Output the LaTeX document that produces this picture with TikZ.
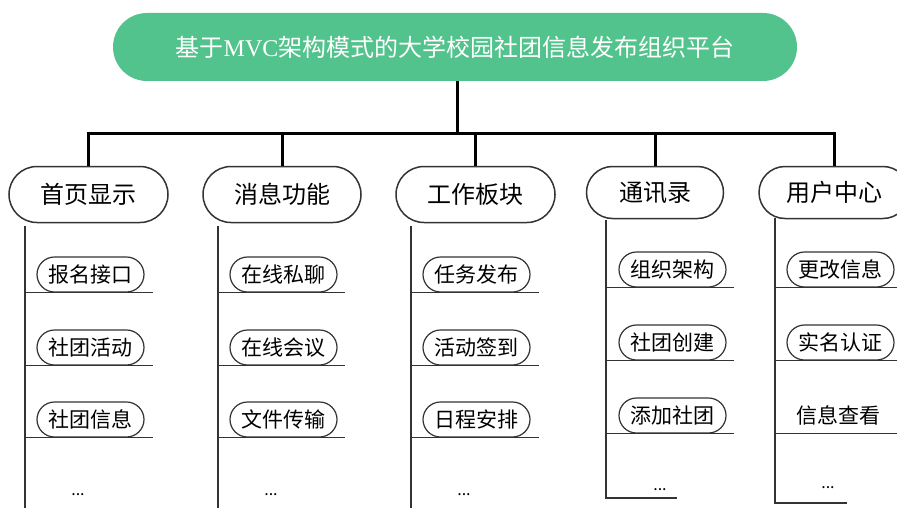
\documentclass[tikz,border=0pt]{standalone}
\usepackage{fontspec}
\setmainfont{Liberation Serif}
\newfontfamily\cjk{Noto Sans CJK SC}
\definecolor{titlegreen}{RGB}{82,195,140}
\tikzset{
  titlebox/.style={fill=titlegreen, rounded corners=17pt, minimum width=342pt, minimum height=34pt, text=white, font=\cjk\fontsize{12}{14}\selectfont},
  catbox/.style={draw=black!80, line width=0.75pt, rounded corners=14pt, minimum height=28pt, inner sep=0pt, font=\cjk\fontsize{12}{14}\selectfont},
  subbox/.style={draw=black!80, line width=0.6pt, rounded corners=8.75pt, minimum width=53.5pt, minimum height=17.5pt, inner sep=0pt, font=\cjk\fontsize{10.5}{12}\selectfont},
  trunk/.style={line width=1.5pt},
  stem/.style={line width=1pt, black!80},
  rule/.style={line width=0.8pt, black!80},
  dots/.style={font=\cjk\fontsize{8}{10}\selectfont}
}
\begin{document}
\begin{tikzpicture}[x=0.5pt, y=-0.5pt]
\useasboundingbox (0,0) rectangle (897,508);
\node[titlebox] (title) at (455,47) {基于{\rmfamily MVC}架构模式的大学校园社团信息发布组织平台};
\coordinate (hub) at (457,133);
\node[catbox, minimum width=79.5pt] (cat1) at (88.5,194.5) {首页显示};
\node[catbox, minimum width=79pt] (cat2) at (282,194.5) {消息功能};
\node[catbox, minimum width=79.5pt] (cat3) at (475.5,194.5) {工作板块};
\node[catbox, minimum width=68.5pt, minimum height=26pt, rounded corners=13pt] (cat4) at (655,192.5) {通讯录};
\node[catbox, minimum width=75pt, minimum height=26pt, rounded corners=13pt] (cat5) at (834,192.5) {用户中心};
\draw[trunk] (title.south -| hub) -- (hub);
\draw[trunk] (cat1.north) |- (hub);
\draw[trunk] (cat2.north) |- (hub);
\draw[trunk] (cat3.north) |- (hub);
\draw[trunk] (cat4.north) |- (hub);
\draw[trunk] (cat5.north) |- (hub);
% 首页显示
\coordinate (s1top) at (25,226);
\coordinate (s1bot) at (25,508);
\coordinate (s1end) at (153,226);
\draw[stem] (s1top) -- (s1bot);
\node[subbox] (sub11) at (90.5,274.5) {报名接口};
\node[subbox] (sub12) at (90.5,347.5) {社团活动};
\node[subbox] (sub13) at (90.5,419.5) {社团信息};
\draw[rule] (sub11.south -| s1top) -- (sub11.south -| s1end);
\draw[rule] (sub12.south -| s1top) -- (sub12.south -| s1end);
\draw[rule] (sub13.south -| s1top) -- (sub13.south -| s1end);
\node[dots] (dot1) at (78,495) {...};
% 消息功能
\coordinate (s2top) at (218,226);
\coordinate (s2bot) at (218,508);
\coordinate (s2end) at (345,226);
\draw[stem] (s2top) -- (s2bot);
\node[subbox] (sub21) at (283.5,274.5) {在线私聊};
\node[subbox] (sub22) at (283.5,347.5) {在线会议};
\node[subbox] (sub23) at (283.5,419.5) {文件传输};
\draw[rule] (sub21.south -| s2top) -- (sub21.south -| s2end);
\draw[rule] (sub22.south -| s2top) -- (sub22.south -| s2end);
\draw[rule] (sub23.south -| s2top) -- (sub23.south -| s2end);
\node[dots] (dot2) at (271,495) {...};
% 工作板块
\coordinate (s3top) at (411,226);
\coordinate (s3bot) at (411,508);
\coordinate (s3end) at (539,226);
\draw[stem] (s3top) -- (s3bot);
\node[subbox] (sub31) at (476.5,274.5) {任务发布};
\node[subbox] (sub32) at (476.5,347.5) {活动签到};
\node[subbox] (sub33) at (476.5,419.5) {日程安排};
\draw[rule] (sub31.south -| s3top) -- (sub31.south -| s3end);
\draw[rule] (sub32.south -| s3top) -- (sub32.south -| s3end);
\draw[rule] (sub33.south -| s3top) -- (sub33.south -| s3end);
\node[dots] (dot3) at (464,495) {...};
% 通讯录
\coordinate (s4top) at (606,220);
\coordinate (s4foot) at (677,498);
\coordinate (s4end) at (734,220);
\draw[stem] (s4top) |- (s4foot);
\node[subbox] (sub41) at (672.5,269.5) {组织架构};
\node[subbox] (sub42) at (672.5,342.5) {社团创建};
\node[subbox] (sub43) at (672.5,415.5) {添加社团};
\draw[rule] (sub41.south -| s4top) -- (sub41.south -| s4end);
\draw[rule] (sub42.south -| s4top) -- (sub42.south -| s4end);
\draw[rule] (sub43.south -| s4top) -- (sub43.south -| s4end);
\node[dots] (dot4) at (660,490) {...};
% 用户中心
\coordinate (s5top) at (775,218);
\coordinate (s5foot) at (847,503);
\coordinate (s5end) at (897,218);
\draw[stem] (s5top) |- (s5foot);
\node[subbox] (sub51) at (840.5,269.5) {更改信息};
\node[subbox] (sub52) at (840.5,342.5) {实名认证};
\node[subbox, draw=none] (sub53) at (838,415.5) {信息查看};
\draw[rule] (sub51.south -| s5top) -- (sub51.south -| s5end);
\draw[rule] (sub52.south -| s5top) -- (sub52.south -| s5end);
\draw[rule] (sub53.south -| s5top) -- (sub53.south -| s5end);
\node[dots] (dot5) at (828,488) {...};
\end{tikzpicture}
\end{document}
